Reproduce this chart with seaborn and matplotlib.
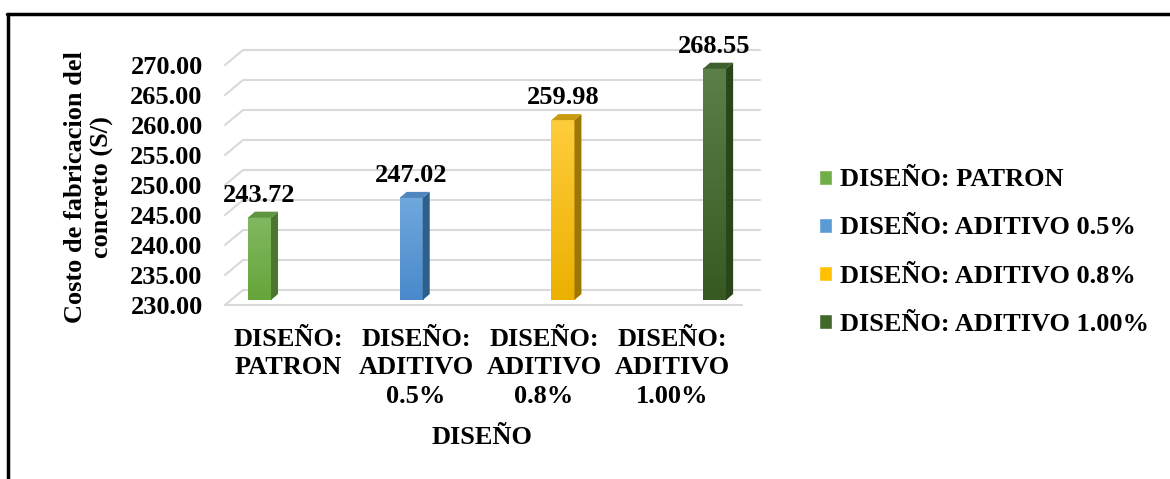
import numpy as np
import pandas as pd
import matplotlib
matplotlib.use("Agg")
import matplotlib.pyplot as plt
import matplotlib.transforms as mtransforms
from matplotlib.patches import Polygon
from matplotlib.lines import Line2D
from matplotlib.colors import LinearSegmentedColormap
import seaborn as sns

# Datos
disenos = ["DISEÑO: PATRON", "DISEÑO: ADITIVO 0.5%", "DISEÑO: ADITIVO 0.8%", "DISEÑO: ADITIVO 1.00%"]
etiquetas_x = ["DISEÑO:\nPATRON", "DISEÑO:\nADITIVO\n0.5%", "DISEÑO:\nADITIVO\n0.8%", "DISEÑO:\nADITIVO\n1.00%"]
costos = [243.72, 247.02, 259.98, 268.55]
ticks_y = [230, 235, 240, 245, 250, 255, 260, 265, 270]

# Colores (cara, degradado arriba/abajo, lado, tapa)
col_cara = ["#70AD47", "#5B9BD5", "#FFC000", "#43682B"]
col_arriba = ["#80B860", "#6FA8DC", "#FFCD3C", "#5C7F4A"]
col_abajo = ["#66A53A", "#4A8ACB", "#EBB000", "#365A21"]
col_lado = ["#4B7630", "#2E5E8A", "#9E7700", "#2A4519"]
col_tapa = ["#5F9440", "#4F86BE", "#C89A10", "#3F5F2C"]

sns.set_theme(style="white")
plt.rcParams["font.family"] = ["Liberation Serif", "DejaVu Serif"]
plt.rcParams["font.weight"] = "bold"
plt.rcParams["text.color"] = "black"
plt.rcParams["axes.labelcolor"] = "black"
plt.rcParams["xtick.color"] = "black"
plt.rcParams["ytick.color"] = "black"
FS = 19

df = pd.DataFrame({"diseno": disenos, "costo": costos})

fig = plt.figure(figsize=(11.7, 4.79), dpi=100)
W, H = 1170, 479
# caja del eje en pixeles: izq 243, der 760, arriba 40, abajo 300
AX_L, AX_R, AX_T, AX_B = 243, 760, 40, 300
ax = fig.add_axes([AX_L / W, 1 - AX_B / H, (AX_R - AX_L) / W, (AX_B - AX_T) / H])

sns.barplot(data=df, x="diseno", y="costo", hue="diseno", palette=col_cara,
            width=0.152, saturation=1, ax=ax, legend=True, zorder=3)

px_x = 151.7   # px por categoria
px_y = 6.0     # px por unidad
ymin = 230
x0px = 259.5   # centro de la primera barra

# degradado vertical en la cara de cada barra
for i, p in enumerate(ax.patches[:len(costos)]):
    cm = LinearSegmentedColormap.from_list(f"g{i}", [col_abajo[i], col_arriba[i]])
    grad = np.linspace(0, 1, 64).reshape(-1, 1)
    ax.imshow(grad, cmap=cm, aspect="auto", origin="lower", zorder=3.2,
              extent=[p.get_x(), p.get_x() + p.get_width(), ymin, p.get_y() + p.get_height()])

ax.set_xlim(-(x0px - AX_L) / px_x, (AX_R - x0px) / px_x)
ax.set_ylim(ymin, ymin + (AX_B - AX_T) / px_y)

# cuadricula pseudo 3D
wpx = AX_R - AX_L
dprof = 10 / px_y
for v in ticks_y:
    ax.plot([-18 / wpx, 0, 1], [v - 5 / px_y, v + dprof, v + dprof],
            transform=ax.get_yaxis_transform(), color="#D9D9D9", lw=1.5,
            clip_on=False, zorder=0)
ax.plot([-18 / wpx, 1 - 18 / wpx], [ymin - 5 / px_y] * 2,
        transform=ax.get_yaxis_transform(), color="#D9D9D9", lw=1.5,
        clip_on=False, zorder=0)

# lados y tapas de las barras
dx = 7 / px_x
dy = 6 / px_y
for i, p in enumerate(ax.patches[:len(costos)]):
    xa = p.get_x()
    w = p.get_width()
    top = p.get_y() + p.get_height()
    lado = Polygon([(xa + w, ymin), (xa + w, top), (xa + w + dx, top + dy), (xa + w + dx, ymin + dy)],
                   closed=True, facecolor=col_lado[i], edgecolor="none", zorder=3.3)
    tapa = Polygon([(xa, top), (xa + w, top), (xa + w + dx, top + dy), (xa + dx, top + dy)],
                   closed=True, facecolor=col_tapa[i], edgecolor="none", zorder=3.3)
    ax.add_patch(lado)
    ax.add_patch(tapa)

# etiquetas de valores
for c in ax.containers:
    ax.bar_label(c, fmt="%.2f", padding=8, fontsize=FS, fontweight="bold", color="black", zorder=5)

ax.set_yticks(ticks_y)
ax.set_yticklabels([f"{v:.2f}" for v in ticks_y], fontsize=FS, fontweight="bold")
ax.set_xticks(range(len(etiquetas_x)))
ax.set_xticklabels(etiquetas_x, fontsize=FS, fontweight="bold", linespacing=1.3)
ax.tick_params(axis="y", length=0, pad=29, labelcolor="black")
ax.tick_params(axis="x", length=0, pad=20, labelcolor="black")
off = mtransforms.ScaledTranslation(0, -5 / 100, fig.dpi_scale_trans)
for lbl in ax.get_yticklabels():
    lbl.set_transform(lbl.get_transform() + off)
# las etiquetas de categoria quedan en el plano frontal (perspectiva)
for i, lbl in enumerate(ax.get_xticklabels()):
    sh = mtransforms.ScaledTranslation((28.5 - 23.7 * i) / 100, 0, fig.dpi_scale_trans)
    lbl.set_transform(lbl.get_transform() + sh)

ax.set_xlabel("DISEÑO", fontsize=FS, fontweight="bold", color="black")
ax.xaxis.set_label_coords((482 - AX_L) / wpx, -(426 - AX_B) / (AX_B - AX_T))
ax.set_ylabel("Costo de fabricacion del\nconcreto (S/)", fontsize=FS, fontweight="bold",
              linespacing=1.2, color="black")
ax.yaxis.set_label_coords((114 - AX_L) / wpx, (AX_B - 187) / (AX_B - AX_T))

sns.despine(ax=ax, left=True, bottom=True)
ax.grid(False)

sns.move_legend(ax, loc="center left", bbox_to_anchor=(795 / W, 1 - 252 / H),
                bbox_transform=fig.transFigure, frameon=False, title=None,
                fontsize=FS, handlelength=0.5, handleheight=0.5,
                handletextpad=0.3, labelspacing=0.95)
for t in ax.get_legend().get_texts():
    t.set_fontweight("bold")
    t.set_color("black")

# marco de la imagen (solo arriba e izquierda visibles)
fig.add_artist(Line2D([7 / W, 1], [1 - 14 / H] * 2, transform=fig.transFigure, color="black", lw=2.5))
fig.add_artist(Line2D([8 / W] * 2, [0, 1 - 14 / H], transform=fig.transFigure, color="black", lw=2.5))

fig.savefig("out.png", dpi=100)
